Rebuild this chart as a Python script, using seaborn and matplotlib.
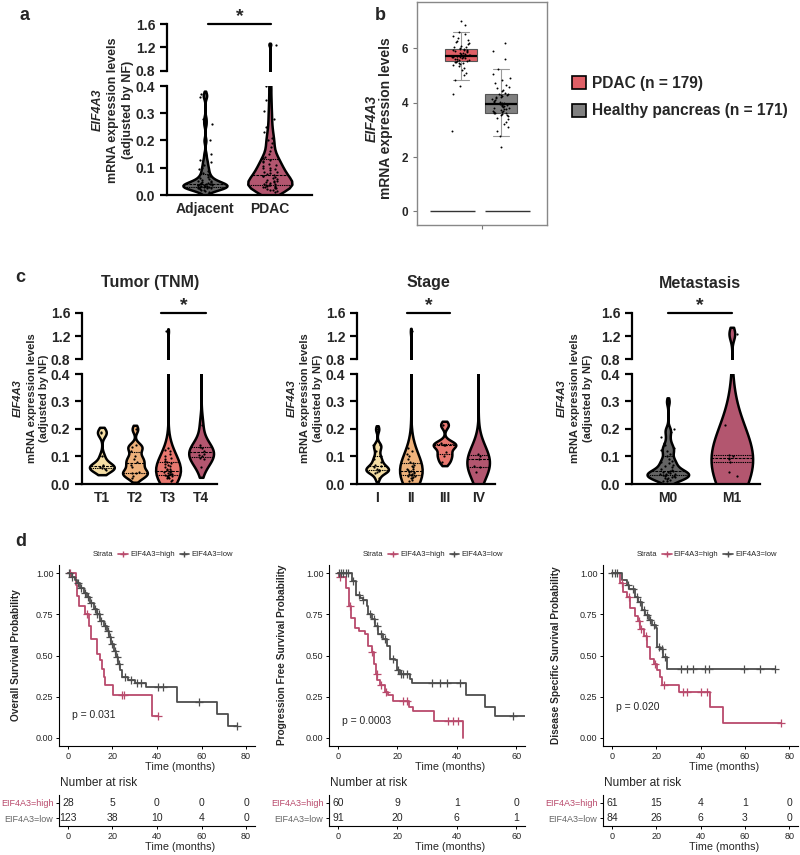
import numpy as np
import pandas as pd
import matplotlib
matplotlib.use("Agg")
import matplotlib.pyplot as plt
import seaborn as sns
from matplotlib.lines import Line2D
from matplotlib.patches import Patch
from matplotlib.ticker import FormatStrFormatter

sns.set_style("ticks")
plt.rcParams["font.family"] = ["Liberation Sans", "DejaVu Sans"]
np.random.seed(3)  # only for the strip jitter

# === Panel a: adjacent vs PDAC (qPCR) ===
a_cats = ["Adjacent", "PDAC"]
a_adjacent = [0.012, 0.015, 0.018, 0.02, 0.022, 0.024, 0.025, 0.026, 0.027, 0.028, 0.029, 0.03,
              0.03, 0.031, 0.032, 0.033, 0.034, 0.035, 0.035, 0.036, 0.037, 0.038, 0.039, 0.04,
              0.041, 0.042, 0.043, 0.045, 0.047, 0.049, 0.05, 0.052, 0.055, 0.058, 0.062, 0.066,
              0.07, 0.075, 0.08, 0.088, 0.095, 0.1, 0.11, 0.12, 0.13, 0.15, 0.2, 0.26, 0.28, 0.36, 0.37]
a_pdac = [0.01, 0.015, 0.018, 0.02, 0.022, 0.025, 0.027, 0.028, 0.03, 0.031, 0.032, 0.034, 0.035,
          0.036, 0.038, 0.04, 0.042, 0.044, 0.046, 0.048, 0.05, 0.053, 0.056, 0.059, 0.062, 0.065,
          0.068, 0.07, 0.073, 0.076, 0.08, 0.083, 0.086, 0.09, 0.094, 0.098, 0.1, 0.105, 0.11, 0.115,
          0.12, 0.125, 0.13, 0.135, 0.14, 0.15, 0.16, 0.175, 0.19, 0.2, 0.21, 0.23, 0.25, 0.28, 0.31,
          0.35, 0.4, 1.25]
a_colors = ["#646464", "#b3566f"]

# === Panel b: GEPIA box plot ===
b_cats = ["PDAC", "Healthy"]
b_pdac = [2.95, 4.3, 4.6, 4.85, 5.0, 5.1, 5.2, 5.28, 5.34, 5.38, 5.42, 5.45, 5.47, 5.49, 5.5,
          5.52, 5.54, 5.56, 5.58, 5.6, 5.61, 5.63, 5.64, 5.66, 5.67, 5.68, 5.69, 5.7, 5.71, 5.72,
          5.73, 5.75, 5.76, 5.78, 5.8, 5.82, 5.84, 5.86, 5.88, 5.9, 5.92, 5.94, 5.95, 5.97, 5.98,
          6.0, 6.03, 6.06, 6.1, 6.14, 6.18, 6.22, 6.27, 6.32, 6.38, 6.45, 6.52, 6.6, 6.85, 7.0]
b_healthy = [2.35, 2.76, 2.95, 3.1, 3.22, 3.3, 3.38, 3.44, 3.49, 3.53, 3.56, 3.58, 3.6, 3.61, 3.62,
             3.64, 3.66, 3.68, 3.7, 3.73, 3.76, 3.78, 3.8, 3.82, 3.85, 3.87, 3.89, 3.9, 3.92, 3.93,
             3.95, 3.97, 3.99, 4.01, 4.04, 4.07, 4.1, 4.13, 4.16, 4.19, 4.22, 4.25, 4.27, 4.29, 4.3,
             4.33, 4.37, 4.41, 4.46, 4.52, 4.58, 4.65, 4.73, 4.82, 4.92, 5.05, 5.22, 5.6, 5.9, 6.2]
b_colors = ["#df5f66", "#808080"]
b_labels = ["PDAC (n = 179)", "Healthy pancreas (n = 171)"]
b_base = [0, 0]
b_base_pos = [-0.22, 1.16]

# === Panel c: clinical subgroups ===
tnm_cats = ["T1", "T2", "T3", "T4"]
tnm_t1 = [0.05, 0.055, 0.058, 0.062, 0.065, 0.07, 0.1, 0.185, 0.19]
tnm_t2 = [0.02, 0.03, 0.04, 0.04, 0.045, 0.06, 0.07, 0.08, 0.09, 0.1, 0.12, 0.135, 0.14, 0.2]
tnm_t3 = [0.01, 0.015, 0.02, 0.022, 0.025, 0.027, 0.03, 0.03, 0.032, 0.034, 0.035, 0.036, 0.038,
          0.04, 0.042, 0.044, 0.046, 0.048, 0.05, 0.053, 0.056, 0.06, 0.064, 0.068, 0.072, 0.076,
          0.08, 0.085, 0.09, 0.095, 0.1, 0.11, 0.12, 0.125, 0.13, 1.28]
tnm_t4 = [0.06, 0.09, 0.095, 0.1, 0.105, 0.11, 0.12, 0.13, 0.135, 0.14, 0.215, 0.55]

stage_cats = ["I", "II", "III", "IV"]
stage_1 = [0.02, 0.04, 0.045, 0.048, 0.05, 0.052, 0.055, 0.06, 0.065, 0.07, 0.08, 0.09, 0.1,
           0.12, 0.14, 0.14, 0.2]
stage_2 = [0.01, 0.015, 0.02, 0.022, 0.025, 0.028, 0.03, 0.032, 0.034, 0.035, 0.037, 0.04, 0.042,
           0.045, 0.048, 0.05, 0.053, 0.056, 0.06, 0.065, 0.07, 0.075, 0.08, 0.09, 0.1, 0.11, 0.12,
           0.13, 1.28]
stage_3 = [0.08, 0.1, 0.115, 0.14, 0.14, 0.15, 0.215]
stage_4 = [0.045, 0.06, 0.065, 0.09, 0.1, 0.11, 0.55]

met_cats = ["M0", "M1"]
met_m0 = [0.01, 0.012, 0.015, 0.018, 0.02, 0.022, 0.025, 0.027, 0.03, 0.03, 0.032, 0.034, 0.035,
          0.036, 0.038, 0.04, 0.042, 0.044, 0.046, 0.048, 0.05, 0.055, 0.06, 0.065, 0.07, 0.075,
          0.08, 0.085, 0.09, 0.1, 0.11, 0.12, 0.125, 0.13, 0.14, 0.15, 0.17, 0.19, 0.2, 0.3]
met_m1 = [0.03, 0.045, 0.08, 0.09, 0.095, 0.1, 0.105, 0.215, 1.24]

four_colors = ["#f5dea4", "#efb27b", "#e8776f", "#b3566f"]

# === Panel d: Kaplan-Meier curves ===
km_red, km_gray = "#b94a6c", "#4d4d4d"
strata = ["EIF4A3=high", "EIF4A3=low"]

os_high_t = [0, 3.5, 4.0, 4.8, 7.8, 9.6, 10.2, 13.2, 14.4, 15.3, 16.2, 16.8, 20.4, 37.6, 40.6]
os_high_s = [1.0, 0.93, 0.86, 0.80, 0.75, 0.68, 0.60, 0.51, 0.47, 0.42, 0.37, 0.32, 0.26, 0.13, 0.13]
os_high_cens = [1.0, 8.5, 24.3, 25.2, 40.6]
os_low_t = [0, 1.5, 3, 4, 5.5, 7, 8.5, 10, 11.5, 13, 14.5, 16, 17.5, 18.5, 19.5, 20.5, 21.5,
            22.5, 23.5, 24.5, 27, 30, 35, 49, 67, 72, 76]
os_low_s = [1.0, 0.98, 0.96, 0.94, 0.91, 0.88, 0.855, 0.82, 0.78, 0.75, 0.71, 0.68, 0.65, 0.61,
            0.57, 0.53, 0.49, 0.45, 0.41, 0.37, 0.35, 0.33, 0.31, 0.22, 0.145, 0.07, 0.07]
os_low_cens = [0.5, 2, 4.5, 6, 7.5, 9, 10.5, 12, 13, 14, 15, 16.5, 18, 19, 20, 21, 22, 23, 25.5,
               28.5, 31, 33, 40.5, 42.5, 59, 76]
os_risk_x = [0, 20, 40, 60, 80]
os_risk_high = [28, 5, 0, 0, 0]
os_risk_low = [123, 38, 10, 4, 0]

pfs_high_t = [0, 0.3, 2.7, 3.7, 4.4, 5.7, 7.2, 9.1, 10.0, 11.4, 12.2, 12.8, 13.3, 14.2, 15.8,
              17.0, 18.4, 24.0, 25.2, 32.4, 42.2]
pfs_high_s = [1.0, 0.98, 0.91, 0.80, 0.73, 0.67, 0.65, 0.63, 0.56, 0.52, 0.45, 0.39, 0.35, 0.32,
              0.28, 0.26, 0.226, 0.19, 0.16, 0.10, 0.0]
pfs_high_cens = [0.8, 4.0, 11.6, 13.0, 14.6, 16.2, 21.8, 23.1, 37.2, 38.9, 40.5]
pfs_low_t = [0, 4.6, 6.1, 7.4, 8.5, 9.7, 10.3, 11.4, 12.5, 13.6, 15.3, 16.4, 17.5, 19.2, 19.8,
             20.9, 24.3, 24.8, 43.1, 49.5, 52.9, 63]
pfs_low_s = [1.0, 0.95, 0.87, 0.85, 0.84, 0.80, 0.75, 0.72, 0.68, 0.63, 0.60, 0.56, 0.48, 0.47,
             0.41, 0.39, 0.36, 0.33, 0.26, 0.19, 0.13, 0.13]
pfs_low_cens = [0.2, 1.0, 1.8, 2.6, 3.3, 5.0, 7.0, 8.5, 10.8, 12.0, 13.0, 14.5, 16.0, 18.5, 20.3,
                21.3, 22.0, 23.2, 31.6, 34.4, 36.6, 41.1, 59.1]
pfs_risk_x = [0, 20, 40, 60]
pfs_risk_high = [60, 9, 1, 0]
pfs_risk_low = [91, 20, 6, 1]

dss_high_t = [0, 3.7, 5.2, 7.0, 8.2, 10.5, 11.7, 12.8, 14.3, 15.8, 17.4, 18.9, 20.4, 21.6, 22.7,
              30.3, 44.5, 50.1, 76.5]
dss_high_s = [1.0, 0.94, 0.885, 0.855, 0.79, 0.74, 0.71, 0.66, 0.62, 0.55, 0.48, 0.45, 0.41, 0.37,
              0.32, 0.28, 0.185, 0.087, 0.087]
dss_high_cens = [4.4, 7.9, 12.2, 13.3, 15.2, 19.3, 23.5, 32.3, 34.1, 40.2, 42.8, 76.5]
dss_low_t = [0, 4.4, 6.7, 7.9, 10.5, 12.0, 13.6, 15.0, 16.6, 18.1, 19.7, 20.4, 21.9, 23.2, 24.7, 73.7]
dss_low_s = [1.0, 0.957, 0.927, 0.906, 0.855, 0.825, 0.774, 0.744, 0.713, 0.683, 0.67, 0.55,
             0.54, 0.49, 0.419, 0.419]
dss_low_cens = [0.2, 1.4, 2.4, 7.2, 9.5, 11.3, 12.8, 14.3, 15.8, 17.4, 18.9, 21.2, 22.7, 23.8,
                31.1, 34.1, 36.4, 42.1, 44.0, 59.6, 66.9, 73.7]
dss_risk_x = [0, 20, 40, 60, 80]
dss_risk_high = [61, 15, 4, 1, 0]
dss_risk_low = [84, 26, 6, 3, 0]

# === Figure ===
W, H = 800, 855
fig = plt.figure(figsize=(8, 8.55), dpi=100)


def rect(l, t, r, b):
    # pixel box -> figure fraction
    return [l / W, 1 - b / H, (r - l) / W, (b - t) / H]


def ftext(x, y, s, **kw):
    fig.text(x / W, 1 - y / H, s, **kw)


def stacked_ylabel(xs, yc, size):
    ftext(xs[0], yc, "EIF4A3", rotation=90, ha="center", va="center", fontsize=size,
          fontweight="bold", fontstyle="italic")
    ftext(xs[1], yc, "mRNA expression levels", rotation=90, ha="center", va="center",
          fontsize=size, fontweight="bold")
    ftext(xs[2], yc, "(adjusted by NF)", rotation=90, ha="center", va="center",
          fontsize=size, fontweight="bold")


def violin_panel(cats, groups, colors, left, right, lo, hi, xlim, width, bw, cut, star):
    df = pd.DataFrame({"grp": np.repeat(cats, [len(g) for g in groups]),
                       "val": np.concatenate(groups)})
    ax_hi = fig.add_axes(rect(left, hi[0], right, hi[1]))
    ax_lo = fig.add_axes(rect(left, lo[0], right, lo[1]))
    for ax in (ax_hi, ax_lo):
        sns.violinplot(data=df, x="grp", y="val", hue="grp", order=cats, hue_order=cats,
                       palette=colors, saturation=1, legend=False, inner="quart",
                       density_norm="width", width=width, cut=cut, bw_adjust=bw,
                       linewidth=1.8, linecolor="black",
                       inner_kws=dict(linewidth=0.8, color="black"), ax=ax)
        sns.stripplot(data=df, x="grp", y="val", order=cats, color="black",
                      size=1.6, jitter=0.12, ax=ax)
        ax.set_xlim(xlim)
        ax.set_xlabel("")
        ax.set_ylabel("")
        ax.tick_params(width=1.6, length=5, labelsize=10, color="black")
        ax.spines["top"].set_visible(False)
        ax.spines["right"].set_visible(False)
        ax.spines["left"].set_linewidth(1.6)
        ax.spines["left"].set_color("black")
    ax_hi.set_ylim(0.8, 1.6)
    ax_hi.set_yticks([0.8, 1.2, 1.6], labels=["0.8", "1.2", "1.6"], fontweight="bold")
    ax_hi.spines["bottom"].set_visible(False)
    ax_hi.set_xticks([])
    ax_lo.set_ylim(0, 0.4)
    lo_ticks = [0.0, 0.1, 0.2, 0.3, 0.4]
    ax_lo.set_yticks(lo_ticks, labels=[f"{v:.1f}" for v in lo_ticks], fontweight="bold")
    ax_lo.set_xticks(range(len(cats)), labels=cats, fontweight="bold")
    ax_lo.spines["bottom"].set_linewidth(1.6)
    ax_lo.spines["bottom"].set_color("black")
    ax_lo.tick_params(axis="x", length=0, pad=5)
    # significance bar
    ax_hi.plot(star, [1.6, 1.6], color="black", lw=1.6, clip_on=False)
    ax_hi.annotate("*", xy=(np.mean(star), 1.6), xytext=(0, -1), textcoords="offset points",
                   ha="center", va="bottom", fontsize=14, fontweight="bold", annotation_clip=False)
    return ax_hi, ax_lo


# --- a ---
violin_panel(a_cats, [a_adjacent, a_pdac], a_colors, 167, 312, (86, 195), (24, 71),
             (-0.585, 1.65), 0.68, 0.3, 1.0, (0.05, 1.02))
stacked_ylabel([98, 113, 128], 110, 9)
ftext(20, 15, "a", fontsize=13, fontweight="bold", va="center")

# --- b ---
bdf = pd.DataFrame({"grp": ["PDAC"] * len(b_pdac) + ["Healthy"] * len(b_healthy),
                    "val": b_pdac + b_healthy})
axb = fig.add_axes(rect(417, 2, 547, 225))
sns.boxplot(data=bdf, x="grp", y="val", hue="grp", order=b_cats, hue_order=b_cats,
            palette=b_colors, saturation=1, legend=False, width=0.82, showfliers=False,
            linewidth=0.8, linecolor="#555555",
            medianprops=dict(color="black", linewidth=1.6),
            whiskerprops=dict(color="#999999", linewidth=0.8),
            capprops=dict(color="#999999", linewidth=0.8), ax=axb)
sns.stripplot(data=bdf, x="grp", y="val", order=b_cats, color="black", size=1.4,
              jitter=0.22, ax=axb)
axb.hlines(b_base, np.array(b_base_pos) - 0.56, np.array(b_base_pos) + 0.56,
           color="#333333", lw=1)
axb.set_xlim(-1.1, 2.15)
axb.set_ylim(-0.5, 7.7)
axb.set_yticks([0, 2, 4, 6], labels=["0", "2", "4", "6"], fontweight="bold")
axb.set_xticks([0.52], labels=[""])
axb.set_xlabel("")
axb.set_ylabel("")
axb.tick_params(labelsize=8.5, length=3, color="#777777")
for sp in axb.spines.values():
    sp.set_color("#888888")
    sp.set_linewidth(1)
ftext(372, 118, "EIF4A3", rotation=90, ha="center", va="center", fontsize=10,
      fontweight="bold", fontstyle="italic")
ftext(386, 118, "mRNA expression levels", rotation=90, ha="center", va="center",
      fontsize=10, fontweight="bold")
ftext(375, 15, "b", fontsize=13, fontweight="bold", va="center")
fig.legend(handles=[Patch(facecolor=c, edgecolor="black", lw=1.2, label=l)
                    for c, l in zip(b_colors, b_labels)],
           loc="upper left", bbox_to_anchor=(558 / W, 1 - 62 / H), frameon=False,
           prop=dict(weight="bold", size=11.2), handlelength=0.9, handleheight=0.9,
           labelspacing=0.8, handletextpad=0.4)

# --- c ---
violin_panel(tnm_cats, [tnm_t1, tnm_t2, tnm_t3, tnm_t4], four_colors, 82, 217, (374, 484),
             (313, 359), (-0.6, 3.48), 0.75, 0.45, 1.0, (1.8, 3.15))
stacked_ylabel([18, 32, 44], 398, 8)
ftext(150, 283, "Tumor (TNM)", ha="center", va="center", fontsize=11.5, fontweight="bold")
ftext(15, 277, "c", fontsize=13, fontweight="bold", va="center")

violin_panel(stage_cats, [stage_1, stage_2, stage_3, stage_4], four_colors, 357, 495,
             (374, 484), (313, 359), (-0.6, 3.5), 0.67, 0.45, 1.0, (0.9, 2.15))
stacked_ylabel([292, 305, 318], 398, 8)
ftext(428, 283, "Stage", ha="center", va="center", fontsize=11.5, fontweight="bold")

violin_panel(met_cats, [met_m0, met_m1], [a_colors[0], a_colors[1]], 632, 760,
             (374, 484), (313, 359), (-0.56, 1.44), 0.65, 0.45, 1.0, (0.0, 1.0))
stacked_ylabel([562, 575, 588], 398, 8)
ftext(700, 283, "Metastasis", ha="center", va="center", fontsize=11.5, fontweight="bold")


# --- d ---
def km_panel(left, right, xmax, curves, ylab, ylab_x, pval, pval_xy, risk_x, risk_rows):
    ax = fig.add_axes(rect(left, 565, right, 746))
    for t, s, cens, col in curves:
        sns.lineplot(x=t, y=s, drawstyle="steps-post", color=col, lw=1.3, ax=ax,
                     estimator=None, sort=False)
        t_arr, s_arr = np.asarray(t), np.asarray(s)
        idx = np.searchsorted(t_arr, cens, side="right") - 1
        sns.scatterplot(x=cens, y=s_arr[idx], marker="+", s=30, color=col, linewidth=0.9,
                        ax=ax, zorder=3)
    ax.set_xlim(-0.05 * xmax, 1.05 * xmax)
    ax.set_ylim(-0.05, 1.05)
    ax.set_xticks(range(0, xmax + 1, 20))
    ax.set_yticks([0, 0.25, 0.5, 0.75, 1.0])
    ax.yaxis.set_major_formatter(FormatStrFormatter("%.2f"))
    ax.tick_params(labelsize=6.5, length=2.5, width=0.7, color="black", pad=1.5)
    for sp in ["top", "right"]:
        ax.spines[sp].set_visible(False)
    for sp in ["left", "bottom"]:
        ax.spines[sp].set_linewidth(0.8)
        ax.spines[sp].set_color("black")
    ax.set_xlabel("Time (months)", fontsize=7.8, labelpad=1)
    ax.xaxis.set_label_coords(0.62, -0.09)
    ax.set_ylabel("")
    ftext(ylab_x, 655, ylab, rotation=90, ha="center", va="center", fontsize=7.3,
          fontweight="bold")
    ax.text(pval_xy[0], pval_xy[1], pval, ha="left", va="center", fontsize=7.5)
    handles = [Line2D([], [], color="none", label="Strata")]
    handles += [Line2D([], [], color=c, marker="+", markersize=4, lw=1.2, label=l)
                for c, l in zip([km_red, km_gray], strata)]
    ax.legend(handles=handles, ncol=3, loc="lower center", bbox_to_anchor=(0.5, 1.02),
              frameon=False, fontsize=5.5, handlelength=1.3, handletextpad=0.3,
              columnspacing=0.6, borderaxespad=0)

    # number at risk table
    rax = fig.add_axes(rect(left, 795, right, 826))
    for row, (counts, col) in zip([1, 0], risk_rows):
        for xx, n in zip(risk_x, counts):
            rax.text(xx, row, str(n), ha="center", va="center", fontsize=7.5)
    rax.set_xlim(-0.05 * xmax, 1.05 * xmax)
    rax.set_ylim(-0.5, 1.5)
    rax.set_xticks(risk_x)
    rax.set_yticks([1, 0], labels=strata)
    for lab, (counts, col) in zip(rax.get_yticklabels(), risk_rows):
        lab.set_color(col)
    rax.tick_params(labelsize=6.5, length=2.5, width=0.7, color="black", pad=1.5)
    for sp in ["top", "right"]:
        rax.spines[sp].set_visible(False)
    for sp in ["left", "bottom"]:
        rax.spines[sp].set_linewidth(0.8)
        rax.spines[sp].set_color("black")
    rax.set_xlabel("Time (months)", fontsize=7.8, labelpad=1)
    rax.xaxis.set_label_coords(0.62, -0.5)
    ftext(left + 1, 783, "Number at risk", ha="left", va="center", fontsize=8.6)


km_panel(59, 255, 80,
         [(os_high_t, os_high_s, os_high_cens, km_red), (os_low_t, os_low_s, os_low_cens, km_gray)],
         "Overall Survival Probability", 16, "p = 0.031", (1.8, 0.14),
         os_risk_x, [(os_risk_high, km_red), (os_risk_low, "#666666")])
km_panel(329, 525, 60,
         [(pfs_high_t, pfs_high_s, pfs_high_cens, km_red),
          (pfs_low_t, pfs_low_s, pfs_low_cens, km_gray)],
         "Progression Free Survival Probability", 282, "p = 0.0003", (1.3, 0.10),
         pfs_risk_x, [(pfs_risk_high, km_red), (pfs_risk_low, "#666666")])
km_panel(603, 798, 80,
         [(dss_high_t, dss_high_s, dss_high_cens, km_red),
          (dss_low_t, dss_low_s, dss_low_cens, km_gray)],
         "Disease Specific Survival Probability", 556, "p = 0.020", (1.8, 0.19),
         dss_risk_x, [(dss_risk_high, km_red), (dss_risk_low, "#666666")])
ftext(15, 541, "d", fontsize=13, fontweight="bold", va="center")

fig.savefig("out.png", dpi=100)
